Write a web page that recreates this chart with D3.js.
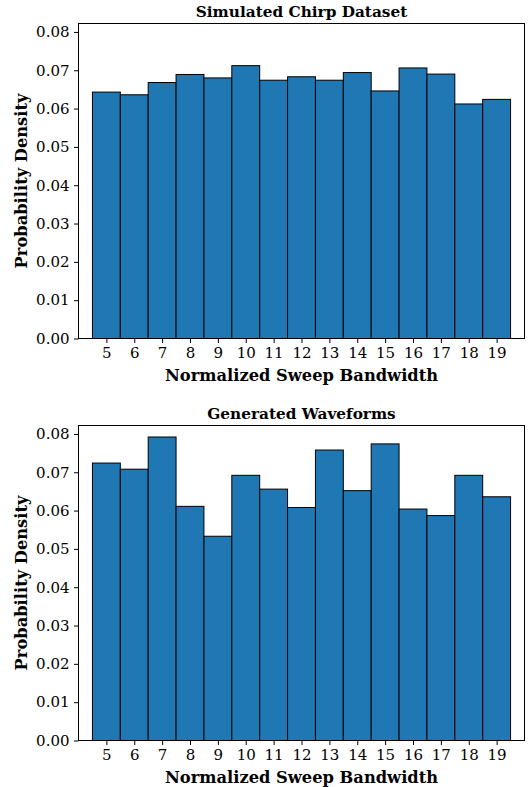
<!DOCTYPE html>
<html>
<head>
<meta charset="utf-8">
<script src="https://cdn.jsdelivr.net/npm/d3@7"></script>
<style>
body { margin: 0; background: white; }
text { font-family: 'DejaVu Serif', serif; fill: #000; }
</style>
</head>
<body>
<div id="chart"></div>
<script>
var bandwidths = [5, 6, 7, 8, 9, 10, 11, 12, 13, 14, 15, 16, 17, 18, 19];
var simulated = [0.0643, 0.0636, 0.0668, 0.0689, 0.0680, 0.0712, 0.0674, 0.0683, 0.0674, 0.0694, 0.0646, 0.0706, 0.0690, 0.0612, 0.0624];
var generated = [0.0724, 0.0708, 0.0792, 0.0611, 0.0533, 0.0692, 0.0656, 0.0608, 0.0758, 0.0652, 0.0774, 0.0604, 0.0587, 0.0692, 0.0636];
var yTicks = [0, 0.01, 0.02, 0.03, 0.04, 0.05, 0.06, 0.07, 0.08];
var titles = ['Simulated Chirp Dataset', 'Generated Waveforms'];

var W = 529, H = 787;
var left = 78.5, right = 524.5, panelH = 315;
var tops = [23.5, 425.5];

var svg = d3.select('#chart')
    .append('svg')
    .attr('width', W)
    .attr('height', H)

var x = d3.scaleLinear()
    .domain([4, 20])
    .range([left, right])
var y = d3.scaleLinear()
    .domain([0, 0.0822])

function drawPanel(values, title, top) {
    var yS = y.copy().range([top + panelH, top])
    var g = svg.append('g')

    g.selectAll('rect')
        .data(values)
        .enter()
        .append('rect')
        .attr('x', function (d, i) { return x(bandwidths[i] - 0.5) })
        .attr('width', function (d, i) { return x(bandwidths[i] + 0.5) - x(bandwidths[i] - 0.5) })
        .attr('y', function (d) { return yS(d) })
        .attr('height', function (d) { return yS(0) - yS(d) })
        .attr('fill', '#1f77b4')
        .attr('stroke', '#000')
        .attr('stroke-width', 1)

    g.append('rect')
        .attr('x', left)
        .attr('y', top)
        .attr('width', right - left)
        .attr('height', panelH)
        .attr('fill', 'none')
        .attr('stroke', '#000')
        .attr('stroke-width', 1)

    var yAxis = g.append('g')
        .attr('transform', 'translate(' + left + ',0)')
        .call(d3.axisLeft(yS).tickValues(yTicks).tickFormat(d3.format('.2f')).tickSize(4.5).tickPadding(4.5))
    var xAxis = g.append('g')
        .attr('transform', 'translate(0,' + (top + panelH) + ')')
        .call(d3.axisBottom(x).tickValues(bandwidths).tickFormat(d3.format('d')).tickSize(4.5).tickPadding(4.5))
    ;[yAxis, xAxis].forEach(function (a) {
        a.attr('font-family', 'DejaVu Serif').attr('font-size', 15)
        a.select('.domain').remove()
        a.selectAll('text').attr('fill', '#000')
        a.selectAll('line').attr('stroke', '#000').attr('stroke-width', 1)
    })

    g.append('text')
        .attr('x', (left + right) / 2)
        .attr('y', top - 7)
        .attr('text-anchor', 'middle')
        .style('font-size', '15.3px')
        .style('font-weight', 'bold')
        .text(title)

    g.append('text')
        .attr('x', (left + right) / 2)
        .attr('y', top + panelH + 42)
        .attr('text-anchor', 'middle')
        .style('font-size', '16.3px')
        .style('font-weight', 'bold')
        .text('Normalized Sweep Bandwidth')

    g.append('text')
        .attr('transform', 'translate(27,' + (top + panelH / 2) + ') rotate(-90)')
        .attr('text-anchor', 'middle')
        .style('font-size', '16.3px')
        .style('font-weight', 'bold')
        .text('Probability Density')
}

drawPanel(simulated, titles[0], tops[0])
drawPanel(generated, titles[1], tops[1])
</script>
</body>
</html>
